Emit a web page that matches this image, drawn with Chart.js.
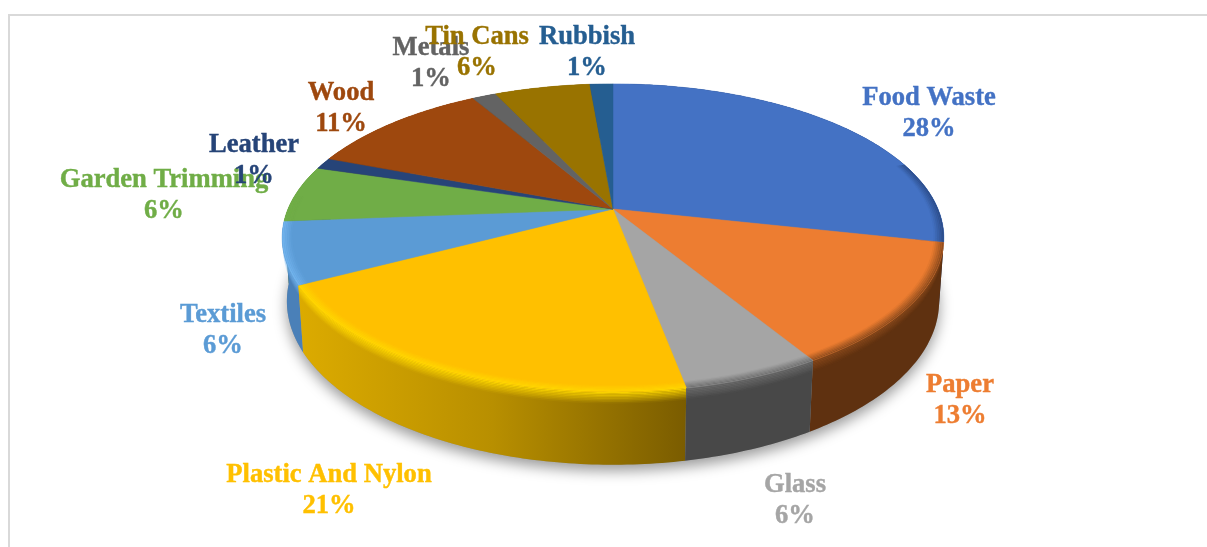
<!DOCTYPE html>
<html>
<head>
<meta charset="utf-8">
<title>Waste composition</title>
<script src="https://cdn.jsdelivr.net/npm/chart.js@4"></script>
<style>
  html, body { margin: 0; background: #fff; overflow: hidden; }
  #wrap { position: relative; width: 1207px; height: 547px; }
  #frame { position: absolute; left: 8px; top: 14px; right: -4px; bottom: -4px; border: 2px solid #d9d9d9; }
  canvas { position: absolute; left: 0; top: 0; }
</style>
</head>
<body>
<div id="wrap">
  <div id="frame"></div>
  <canvas id="pie" width="1207" height="547"></canvas>
</div>
<script>
// Values (slice angles), and the percentages printed on it
const categories = ["Food Waste", "Paper", "Glass", "Plastic And Nylon", "Textiles", "Garden Trimming",
  "Leather", "Wood", "Metals", "Tin Cans", "Rubbish"];
const sliceValues = [28.5, 12.9, 5.7, 20.2, 6.5, 5.95, 1.2, 10.8, 1.4, 5.6, 1.35];
const percentLabels = ["28%", "13%", "6%", "21%", "6%", "6%", "1%", "11%", "1%", "6%", "1%"];

// Styles
const topColors = ["#4472c4", "#ed7d31", "#a5a5a5", "#ffc000", "#5b9bd5", "#70ad47",
  "#264478", "#9e480e", "#636363", "#997300", "#255e91"];
const wallColors = ["#1f3864", "#5f3110", "#484848", null, "#4a80b8", "#3f6a28",
  "#16294a", "#5c2a08", "#3a3a3a", "#5c4500", "#163a5a"];
const rimColors = ["#2a4a85", "#8a4a1c", "#6e6e6e", "#ffd800", "#72b4ee", "#70ad47",
  "#264478", "#9e480e", "#636363", "#997300", "#255e91"];

// Label anchors: centre x, middle y of the first line
const labelX = [929, 960, 795, 329, 223, 164, 254, 341, 431, 477, 587];
const labelY = [98, 385, 485, 475, 315, 180, 145, 93, 48, 37, 37];

// Perspective of the disc, fitted to the rim of the reference
const cx = 613, cy = 209, radiusX = 325, radiusY = 148.5, persp = 0.187, thick = 63, thickPersp = 0.014;
// part of the rim that carries the bevel, radians clockwise from north
const bevelFrom = 1.25, bevelTo = 4.8;

const project = (theta, rho, z) => {
  const X = rho * Math.sin(theta), Y = rho * Math.cos(theta);
  const w = 1 + persp * Y + thickPersp * z;
  return [cx + radiusX * X / w, cy + (-radiusY * Y + thick * z) / w];
};

const tracePath = (ctx, points) => {
  ctx.beginPath();
  points.forEach((p, i) => i ? ctx.lineTo(p[0], p[1]) : ctx.moveTo(p[0], p[1]));
  ctx.closePath();
};

const arcPoints = (a0, a1, rho, z) => {
  const steps = Math.max(2, Math.ceil((a1 - a0) / 0.015));
  const out = [];
  for (let i = 0; i <= steps; i++) out.push(project(a0 + (a1 - a0) * i / steps, rho, z));
  return out;
};

const disc3d = {
  id: 'disc3d',
  beforeDatasetsDraw(chart) {
    const ctx = chart.ctx;
    // slice angles come from the pie controller, 0 = north, clockwise
    const slices = chart.getDatasetMeta(0).data.map((a, i) => ({
      i, a0: a.startAngle + Math.PI / 2, a1: a.endAngle + Math.PI / 2
    }));

    // soft shadow under the disc
    ctx.save();
    ctx.shadowColor = 'rgba(0,0,0,0.4)';
    ctx.shadowBlur = 14;
    ctx.shadowOffsetY = 6;
    ctx.fillStyle = '#999';
    tracePath(ctx, arcPoints(0, Math.PI * 2, 1, 1));
    ctx.fill();
    ctx.restore();

    // outer walls, back to front
    const backToFront = [...slices].sort((s, t) => Math.cos((t.a0 + t.a1) / 2) - Math.cos((s.a0 + s.a1) / 2));
    backToFront.forEach(({ i, a0, a1 }) => {
      const wall = [...arcPoints(a0, a1, 1, 0), ...arcPoints(a0, a1, 1, 1).reverse()];
      let fill = wallColors[i];
      if (!fill) {
        fill = ctx.createLinearGradient(298, 0, 687, 0);
        fill.addColorStop(0, '#dcab00');
        fill.addColorStop(0.5, '#b88f00');
        fill.addColorStop(1, '#7a5c00');
      }
      ctx.fillStyle = fill;
      tracePath(ctx, wall);
      ctx.fill();
      // soft transition from the rim into the wall
      const bands = 8;
      ctx.fillStyle = rimColors[i];
      for (let b = 0; b < bands; b++) {
        const z0 = b * 0.16 / bands, z1 = (b + 1) * 0.16 / bands;
        ctx.globalAlpha = 1 - (b + 0.5) / bands;
        tracePath(ctx, [...arcPoints(a0, a1, 1, z0), ...arcPoints(a0, a1, 1, z1).reverse()]);
        ctx.fill();
      }
      ctx.globalAlpha = 1;
    });

    // top face with a bevel along the front of the rim
    slices.forEach(({ i, a0, a1 }) => {
      ctx.fillStyle = topColors[i];
      tracePath(ctx, [[cx, cy], ...arcPoints(a0, a1, 1, 0)]);
      ctx.fill();
      ctx.strokeStyle = topColors[i];
      ctx.lineWidth = 0.5;
      ctx.stroke();
      const b0 = Math.max(a0, bevelFrom), b1 = Math.min(a1, bevelTo);
      if (b1 <= b0) return;
      const bands = 6;
      ctx.fillStyle = rimColors[i];
      for (let b = 0; b < bands; b++) {
        const r0 = 0.97 + b * 0.03 / bands, r1 = 0.97 + (b + 1) * 0.03 / bands;
        ctx.globalAlpha = (b + 0.5) / bands;
        tracePath(ctx, [...arcPoints(b0, b1, r0, 0), ...arcPoints(b0, b1, r1, 0).reverse()]);
        ctx.fill();
      }
      ctx.globalAlpha = 1;
    });
    return false;
  },
  afterDraw(chart) {
    const ctx = chart.ctx;
    ctx.save();
    ctx.font = 'bold 26.6px "Liberation Serif"';
    ctx.textAlign = 'center';
    ctx.textBaseline = 'middle';
    ctx.lineWidth = 0.4;
    categories.forEach((name, i) => {
      ctx.fillStyle = ctx.strokeStyle = topColors[i];
      ctx.fillText(name, labelX[i], labelY[i]);
      ctx.strokeText(name, labelX[i], labelY[i]);
      ctx.fillText(percentLabels[i], labelX[i], labelY[i] + 31);
      ctx.strokeText(percentLabels[i], labelX[i], labelY[i] + 31);
    });
    ctx.restore();
  }
};

new Chart(document.getElementById('pie').getContext('2d'), {
  type: 'pie',
  data: {
    labels: categories,
    datasets: [{ data: sliceValues, backgroundColor: topColors, borderWidth: 0 }]
  },
  options: {
    responsive: false,
    animation: false,
    plugins: { legend: { display: false }, tooltip: { enabled: false } }
  },
  plugins: [disc3d]
});
</script>
</body>
</html>
